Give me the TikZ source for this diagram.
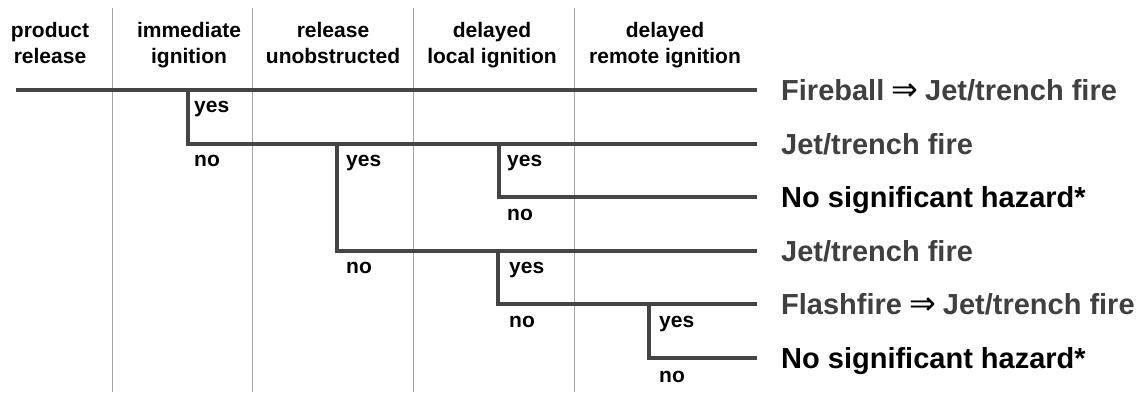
\documentclass[tikz,border=0pt]{standalone}
\usepackage{fontspec}
\setmainfont{Liberation Sans}
\newfontfamily\arrowfont{DejaVu Sans}
\usetikzlibrary{positioning}

\definecolor{branchgray}{RGB}{68,68,68}
\definecolor{gridgray}{RGB}{165,165,165}
\definecolor{firegray}{RGB}{64,64,64}

\newcommand{\thenarrow}{\kern7pt{\color{black}\arrowfont\mdseries\fontsize{32}{33}\selectfont ⇒}\kern7pt}

\begin{document}
\begin{tikzpicture}[x=1pt, y=-1pt,
			branch/.style={line width=4pt, draw=branchgray},
			divider/.style={line width=1pt, draw=gridgray},
			header/.style={font=\bfseries\fontsize{21}{26}\selectfont, align=center, inner sep=0pt, anchor=base},
			ans/.style={font=\bfseries\fontsize{21}{25}\selectfont, anchor=base west, inner sep=0pt},
			outcome/.style={font=\bfseries\fontsize{29}{33}\selectfont, anchor=west, inner xsep=24pt, inner ysep=0pt,
				text height=21pt, text depth=0pt, text=firegray},
			safe/.style={outcome, text=black}]
			
			\useasboundingbox (0,0) rectangle (1143,392);
			
			% column dividers
			\foreach \x in {112,252,413,574}
			\draw[divider] (\x,8) -- (\x,392);
			
			% column headers
			\node[header] (prod) at (50,63) {product\\release};
			\node[header] (imm) at (189,63) {immediate\\ignition};
			\node[header] (unob) at (333,63) {release\\unobstructed};
			\node[header] (local) at (492,63) {delayed\\local ignition};
			\node[header] (remote) at (665,63) {delayed\\remote ignition};
			
			% outcomes
			\node[outcome] (fireball) at (757,90) {Fireball\thenarrow Jet/trench fire};
			\node[outcome] (jet1) at (757,144) {Jet/trench fire};
			\node[safe] (safe1) at (757,197) {No significant hazard*};
			\node[outcome] (jet2) at (757,251) {Jet/trench fire};
			\node[outcome] (flash) at (757,304) {Flashfire\thenarrow Jet/trench fire};
			\node[safe] (safe2) at (757,358) {No significant hazard*};
			
			% branch points
			\coordinate (root) at (16,90);
			\coordinate (ii) at (188,90);
			\coordinate (ru) at (337,144);
			\coordinate (dl1) at (499,144);
			\coordinate (dl2) at (498,251);
			\coordinate (dr) at (649,304);
			
			\draw[branch] (root) -- (fireball.west);
			\draw[branch] (ii) |- (jet1.west);
			\draw[branch] (ru) |- (jet2.west);
			\draw[branch] (dl1) |- (safe1.west);
			\draw[branch] (dl2) |- (flash.west);
			\draw[branch] (dr) |- (safe2.west);
			
			% yes / no answers
			\foreach \name/\x/\y/\t in {ii-yes/194/112/yes, ii-no/194/166/no,
				ru-yes/346/166/yes, ru-no/346/273/no,
				dl1-yes/507/166/yes, dl1-no/507/220/no,
				dl2-yes/509/273/yes, dl2-no/509/327/no,
				dr-yes/659/327/yes, dr-no/659/382/no}
			\node[ans] (\name) at (\x,\y) {\t};
			\end{tikzpicture}
\end{document}
